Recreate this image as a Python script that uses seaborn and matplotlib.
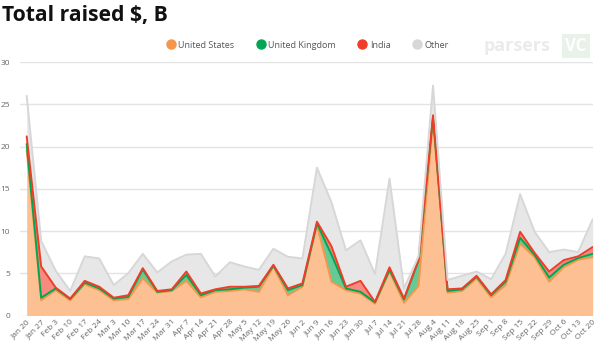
import numpy as np
import pandas as pd
import matplotlib
matplotlib.use("Agg")
import matplotlib.pyplot as plt
import matplotlib.transforms as mtransforms
from matplotlib.lines import Line2D
import seaborn as sns

weeks = ["Jan 20", "Jan 27", "Feb 3", "Feb 10", "Feb 17", "Feb 24", "Mar 3", "Mar 10",
         "Mar 17", "Mar 24", "Mar 31", "Apr 7", "Apr 14", "Apr 21", "Apr 28", "May 5",
         "May 12", "May 19", "May 26", "Jun 2", "Jun 9", "Jun 16", "Jun 23", "Jun 30",
         "Jul 7", "Jul 14", "Jul 21", "Jul 28", "Aug 4", "Aug 11", "Aug 18", "Aug 25",
         "Sep 1", "Sep 8", "Sep 15", "Sep 22", "Sep 29", "Oct 6", "Oct 13", "Oct 20"]

united_states = [19.6, 1.8, 3.0, 1.8, 3.7, 3.0, 1.8, 1.95, 4.4, 2.7, 2.9, 4.1, 2.15, 2.8,
                 2.9, 3.1, 2.8, 5.8, 2.4, 3.4, 10.7, 4.0, 3.0, 2.6, 1.4, 5.2, 1.5, 3.5,
                 23.1, 2.7, 2.9, 4.4, 2.15, 3.6, 8.5, 6.9, 4.0, 5.7, 6.6, 6.9]
united_kingdom = [0.7, 0.3, 0.2, 0.15, 0.2, 0.2, 0.2, 0.25, 1.05, 0.1, 0.1, 0.7, 0.25, 0.2,
                  0.2, 0.2, 0.6, 0.1, 0.6, 0.2, 0.2, 3.2, 0.2, 0.2, 0.15, 0.2, 0.4, 3.0,
                  0.4, 0.2, 0.2, 0.2, 0.25, 0.4, 0.7, 0.25, 0.5, 0.3, 0.2, 0.4]
india = [0.9, 3.7, 0.1, 0.05, 0.2, 0.2, 0.1, 0.2, 0.15, 0.1, 0.1, 0.4, 0.2, 0.1,
         0.3, 0.1, 0.1, 0.1, 0.2, 0.2, 0.2, 1.0, 0.2, 1.3, 0.05, 0.3, 0.1, 0.1,
         0.2, 0.2, 0.1, 0.1, 0.1, 0.2, 0.7, 0.25, 0.7, 0.55, 0.2, 0.8]
other = [4.8, 3.0, 2.0, 0.9, 2.9, 3.35, 1.5, 2.6, 1.7, 2.2, 3.3, 2.0, 4.7, 1.5,
         2.9, 2.4, 1.9, 1.9, 3.75, 2.95, 6.4, 5.2, 4.3, 4.8, 3.3, 10.5, 1.2, 0.4,
         3.5, 1.1, 1.5, 0.5, 1.8, 3.1, 4.45, 2.5, 2.3, 1.25, 0.5, 3.3]

series_names = ["United States", "United Kingdom", "India", "Other"]
line_colors = ["#F7964A", "#00A651", "#F03C28", "#D7D7D7"]
fill_colors = ["#FCC092", "#66CA96", "#F68A7E", "#E7E7E7"]

df = pd.DataFrame({"week": weeks, "United States": united_states,
                   "United Kingdom": united_kingdom, "India": india, "Other": other})
df["x"] = np.arange(len(df))
cum = df[series_names].cumsum(axis=1)

sns.set_theme(style="white")
plt.rcParams["font.family"] = ["Open Sans", "DejaVu Sans"]

fig = plt.figure(figsize=(6, 3.5), dpi=100)
ax = fig.add_axes([20 / 600, 1 - 315.5 / 350, (592.7 - 20) / 600, (315.5 - 62) / 350])

prev = np.zeros(len(df))
for name, fc in zip(series_names, fill_colors):
    top = cum[name].values
    ax.fill_between(df["x"], prev, top, color=fc, linewidth=0, zorder=2)
    prev = top

for name, lc in zip(series_names, line_colors):
    sns.lineplot(x=df["x"], y=cum[name], color=lc, linewidth=1.4, ax=ax, zorder=3)

ax.set_xlim(-0.46, len(df) - 1)
ax.set_ylim(0, 30)
ax.set_yticks([0, 5, 10, 15, 20, 25, 30])
ax.yaxis.grid(True, color="#E3E3E3", linewidth=1.0)
ax.set_axisbelow(True)
for s in ax.spines.values():
    s.set_visible(False)
ax.set_xlabel("")
ax.set_ylabel("")
ax.set_xticks(df["x"])
ax.set_xticklabels(weeks, rotation=45, ha="right", rotation_mode="anchor",
                   fontsize=6, color="#666666")
offset = mtransforms.ScaledTranslation(4 / 100, -2 / 100, fig.dpi_scale_trans)
for lab in ax.get_xticklabels():
    lab.set_transform(lab.get_transform() + offset)
ax.tick_params(axis="x", length=0, pad=2)
ax.tick_params(axis="y", length=0, pad=7, labelsize=6, labelcolor="#666666")

# Title
fig.text(2 / 600, 1 - 20.7 / 350, "Total raised $, B", fontsize=15.2, fontweight="bold",
         color="#111111", ha="left", va="baseline")

# Legend
handles = [Line2D([0], [0], marker="o", linestyle="", markersize=6.5,
                  markerfacecolor=c, markeredgecolor=c) for c in line_colors]
fig.legend(handles, series_names, loc="center", bbox_to_anchor=(307 / 600, 1 - 45 / 350),
           ncol=4, frameon=False, fontsize=6.5, labelcolor="#555555",
           handletextpad=0.25, columnspacing=2.3, handlelength=1.2)

# Watermark
fig.text(484 / 600, 1 - 46 / 350, "parsers", fontsize=13, color="#EBEBEB",
         ha="left", va="center", fontweight="bold")
fig.text(576 / 600, 1 - 46 / 350, "VC", fontsize=12, color="white", ha="center",
         va="center", fontweight="bold",
         bbox=dict(boxstyle="square,pad=0.2", facecolor="#E8F2E8", edgecolor="none"))

fig.savefig("out.png", dpi=100)
